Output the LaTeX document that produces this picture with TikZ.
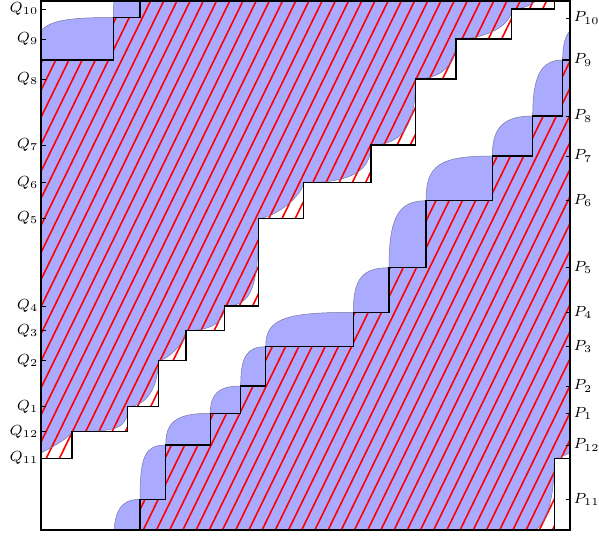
\documentclass[tikz,border=0pt]{standalone}
\usepackage{graphicx}
\definecolor{bfill}{RGB}{170,170,255}
\definecolor{bline}{RGB}{120,120,160}
\newcommand\SPpts{140/546.5, 140/499.3, 165.7/499.3, 165.7/445, 210.3/445, 210.3/413.3, 240.7/413.3, 240.7/386, 265.7/386, 265.7/346.7, 353.3/346.7, 353.3/312.3, 389/312.3, 389/267.7, 426/267.7, 426/200.7, 492.3/200.7, 492.3/156, 532.7/156, 532.7/116, 562.7/116, 562.7/60, 642.3/60, 642.3/17.5}
\newcommand\SQpts{25.3/538, 25.3/458.3, 72/458.3, 72/431.7, 127.7/431.7, 127.7/406.5, 158.3/406.5, 158.3/360.5, 186/360.5, 186/330.7, 224.7/330.7, 224.7/306, 258.7/306, 258.7/218.3, 303.3/218.3, 303.3/182.7, 371/182.7, 371/145, 415.7/145, 415.7/79, 456/79, 456/39, 511.7/39, 511.7/9}
\newcommand\BPsegs{140/499.3/165.7/445/0.8, 165.7/445/210.3/413.3/0.75, 210.3/413.3/240.7/386/0.72, 240.7/386/265.7/346.7/0.75, 265.7/346.7/353.3/312.3/0.8, 353.3/312.3/389/267.7/0.75, 389/267.7/426/200.7/0.75, 426/200.7/492.3/156/0.8, 492.3/156/532.7/116/0.72, 532.7/116/562.7/60/0.72, 562.7/60/642.3/17.5/0.85, 642.3/17.5/669/-29.7/0.75}
\newcommand\BQsegs{25.3/458.3/72/431.7/0.2, 72/431.7/127.7/406.5/0.85, 127.7/406.5/158.3/360.5/0.6, 158.3/360.5/186/330.7/0.35, 186/330.7/224.7/306/0.65, 224.7/306/258.7/218.3/0.8, 258.7/218.3/303.3/182.7/0.35, 303.3/182.7/371/145/0.7, 371/145/415.7/79/0.7, 415.7/79/456/39/0.65, 456/39/511.7/9/0.55, 511.7/9/554.3/-70.7/0.7}
\newcommand\stairs[2]{\foreach \kk in {-2,...,2}{\foreach \px/\py in #1{ -- ({\px+(#2)+529*(\kk)},{\py-529*(\kk)}) }}}
\newcommand\pcurve[1]{\foreach \kk in {-2,...,2}{\foreach \xa/\ya/\xb/\yb/\cc in \BPsegs{ .. controls ({\xa+(#1)+529*(\kk)},{\ya+\cc*((\yb)-(\ya))-529*(\kk)}) and ({\xa+(1-\cc)*((\xb)-(\xa))+(#1)+529*(\kk)},{\yb-529*(\kk)}) .. ({\xb+(#1)+529*(\kk)},{\yb-529*(\kk)}) }}}
\newcommand\qcurve[1]{\foreach \kk in {-2,...,2}{\foreach \xa/\ya/\xb/\yb/\cc in \BQsegs{ .. controls ({\xa+\cc*((\xb)-(\xa))+(#1)+529*(\kk)},{\ya-529*(\kk)}) and ({\xb+(#1)+529*(\kk)},{\ya+(1-\cc)*((\yb)-(\ya))-529*(\kk)}) .. ({\xb+(#1)+529*(\kk)},{\yb-529*(\kk)}) }}}
\newcommand\closeUL{ -- (2500,-4000) -- (-4000,-4000) -- cycle }
\newcommand\pclosed[1]{(-4000,2000) -- ({140+(#1)-1058},{499.3+1058}) \pcurve{#1} \closeUL}
\newcommand\qclosed[1]{(-4000,2000) -- ({25.3+(#1)-1058},{458.3+1058}) \qcurve{#1} \closeUL}
\newcommand\spclosed[1]{(-4000,2000) \stairs{\SPpts}{#1} \closeUL}
\newcommand\sqclosed[1]{(-4000,2000) \stairs{\SQpts}{#1} \closeUL}
\tikzset{
  hatchline/.style={red, line width=1.6pt},
  blueline/.style={bline, line width=0.5pt},
  stairline/.style={black, line width=1.45pt},
  tickline/.style={black, line width=0.6pt},
  qlab/.style={anchor=east, inner sep=0pt, font=\scriptsize},
  plab/.style={anchor=west, inner sep=0pt, font=\scriptsize}
}
\begin{document}
\begin{tikzpicture}[x=1pt,y=-1pt]
\useasboundingbox (0,0) rectangle (599,537);
\begin{scope}
  \clip (41,1) rectangle (570,530);
  \fill[bfill, even odd rule] \pclosed{-529} \qclosed{0} \pclosed{0} \qclosed{529};
  \begin{scope}[even odd rule]
    \clip \spclosed{-529} \sqclosed{0} \spclosed{0} \sqclosed{529};
    \foreach \i in {-14,...,49}
      \draw[hatchline] ({203.3+13.2*\i-262.9},540) -- ({203.3+13.2*\i+5.4},-10);
  \end{scope}
  \draw[blueline] ({140-529-1058},{499.3+1058}) \pcurve{-529};
  \draw[blueline] ({25.3-1058},{458.3+1058}) \qcurve{0};
  \draw[blueline] ({140-1058},{499.3+1058}) \pcurve{0};
  \draw[blueline] ({25.3+529-1058},{458.3+1058}) \qcurve{529};
  \draw[stairline] ({140-529-1058},{546.5+1058}) \stairs{\SPpts}{-529};
  \draw[stairline] ({140-1058},{546.5+1058}) \stairs{\SPpts}{0};
  \draw[stairline] ({25.3-1058},{538+1058}) \stairs{\SQpts}{0};
  \draw[stairline] ({25.3+529-1058},{538+1058}) \stairs{\SQpts}{529};
\end{scope}
\draw[black, line width=1.1pt] (41,1) rectangle (570,530);
\foreach \n/\yy in {10/9, 9/39, 8/79, 7/145, 6/182.7, 5/218.3, 4/306, 3/330.7, 2/360.5, 1/406.5, 12/431.7, 11/458.3}{
  \draw[tickline] (41,\yy) -- (45.5,\yy);
  \node[qlab] (q\n) at (38.5,\yy) {\scalebox{2.1}{$Q_{\n}$}};
}
\foreach \n/\yy in {10/18, 9/60, 8/116, 7/156, 6/200.7, 5/267.7, 4/312.3, 3/346.7, 2/386, 1/413.3, 12/445, 11/499.3}{
  \draw[tickline] (565.5,\yy) -- (570,\yy);
  \node[plab] (p\n) at (573.3,\yy) {\scalebox{2.1}{$P_{\n}$}};
}
\end{tikzpicture}
\end{document}
